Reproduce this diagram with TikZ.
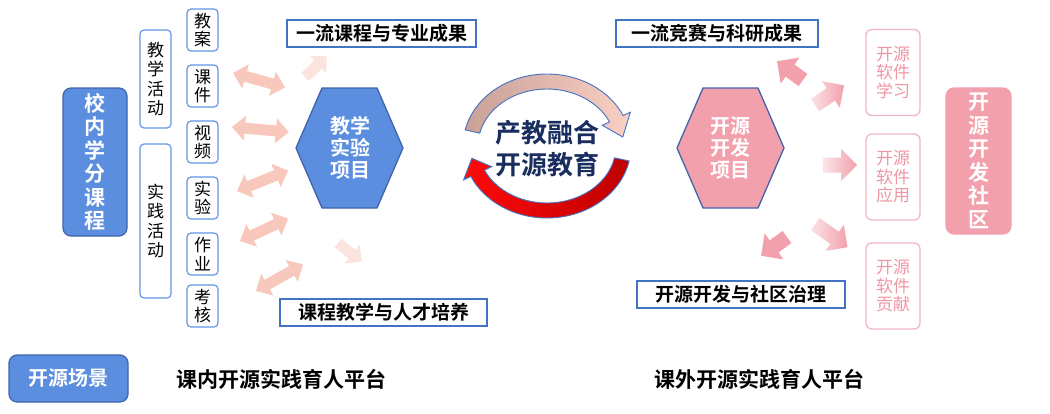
\documentclass[tikz,border=0pt]{standalone}
\usepackage{fontspec}
\setmainfont{Noto Sans CJK SC}[BoldFont={Noto Sans CJK SC Bold}]
\definecolor{cblue}{RGB}{91,142,222}
\definecolor{cbluedk}{RGB}{65,100,170}
\definecolor{cline}{RGB}{68,114,196}
\definecolor{citem}{RGB}{100,150,230}
\definecolor{cpink}{RGB}{242,160,172}
\definecolor{cpinklt}{RGB}{244,182,194}
\definecolor{cpinktx}{RGB}{240,150,165}
\definecolor{cpinkpale}{RGB}{252,228,232}
\definecolor{csalmon}{RGB}{248,200,188}
\definecolor{csalmonlt}{RGB}{252,228,222}
\definecolor{cnavy}{RGB}{25,45,95}
\definecolor{ctopl}{RGB}{200,160,150}
\definecolor{ctopr}{RGB}{250,208,196}
\definecolor{cbotl}{RGB}{255,10,10}
\definecolor{cbotr}{RGB}{190,0,0}
\newcommand\DArr[4]{\begin{scope}[shift={(#1,#2)},rotate=#3]\fill[csalmon] (0,0) -- (13,-12.5) -- (13,-5.5) -- (#4-13,-5.5) -- (#4-13,-12.5) -- (#4,0) -- (#4-13,12.5) -- (#4-13,5.5) -- (13,5.5) -- (13,12.5) -- cycle;\end{scope}}
\newcommand\SArr[8]{\begin{scope}[shift={(#1,#2)},rotate=#3]\path[#5] (0,-#6) -- (#4-#8,-#6) -- (#4-#8,-#7) -- (#4,0) -- (#4-#8,#7) -- (#4-#8,#6) -- (0,#6) -- cycle;\end{scope}}
\tikzset{
  bluebox/.style={fill=cblue, draw=cbluedk, line width=1.2pt, rounded corners=8pt, text=white, align=center, inner sep=0pt, font=\bfseries\fontsize{21}{23.5}\selectfont},
  itembox/.style={draw=citem, line width=1.2pt, rounded corners=4pt, fill=white, minimum width=31, align=center, inner sep=0pt, font=\fontsize{17}{18.5}\selectfont},
  tagbox/.style={draw=cline, line width=1.2pt, fill=white, minimum height=27, inner sep=0pt, font=\bfseries\fontsize{19}{20}\selectfont},
  softbox/.style={draw=cpinklt, line width=1.3pt, rounded corners=6pt, fill=white, text=cpinktx, minimum width=54, minimum height=86, align=center, inner sep=0pt, font=\fontsize{17}{18.5}\selectfont},
  hextext/.style={text=white, align=center, inner sep=0pt, font=\bfseries\fontsize{20}{22}\selectfont},
  hexshape/.style={draw=cbluedk, line width=1.3pt},
  circarrow/.style={draw=cline, line width=0.9pt},
  plain/.style={inner sep=0pt, font=\bfseries\fontsize{21}{23}\selectfont}
}
\begin{document}
\begin{tikzpicture}[x=1pt,y=-1pt]
\useasboundingbox (0,0) rectangle (1050,413);
\fill[white] (0,0) rectangle (1050,413);

% left double arrows
\DArr{233}{73}{-15.4}{54}
\DArr{232}{127}{-5.1}{57}
\DArr{237}{191}{21.8}{55}
\DArr{240}{241}{25}{53}
\DArr{256}{291}{29.5}{54}
% left light single arrows
\SArr{305}{77}{43.5}{30}{fill=csalmonlt}{5.5}{12}{12}
\SArr{338}{243}{-38}{30}{fill=csalmonlt}{5.5}{12}{12}

% right arrows
\SArr{803}{80}{144}{32}{fill=cpink}{7.5}{16}{16}
\SArr{815}{105}{34}{35}{left color=cpinkpale, right color=cpink}{7.5}{16}{16}
\SArr{823}{165}{0}{34}{left color=cpinkpale, right color=cpink}{7.5}{16}{16}
\SArr{815}{224}{-35.5}{40}{left color=cpinkpale, right color=cpink}{7.5}{16}{16}
\SArr{787}{237}{216}{32}{fill=cpink}{7.5}{16}{16}

% hexagons
\path[hexshape, fill=cblue] (296,148) -- (322,88) -- (377,88) -- (403,148) -- (377,208) -- (322,208) -- cycle;
\path[hexshape, fill=cpink] (677,148) -- (703,88) -- (758,88) -- (784,148) -- (758,208) -- (703,208) -- cycle;
\node[hextext] (hexL) at (350,148) {教学\\实验\\项目};
\node[hextext] (hexR) at (730.5,148) {开源\\开发\\项目};

% circular arrows
\path[circarrow, left color=ctopl, right color=ctopr]
  plot[domain=193:335, samples=40, smooth] ({547+84*cos(\x)},{146+72*sin(\x)})
  -- ({547+92*cos(335)},{146+80*sin(335)})
  -- ({547+76.5*cos(352)},{146+64.5*sin(352)})
  -- ({547+61*cos(335)},{146+49*sin(335)})
  -- plot[domain=335:193, samples=40, smooth] ({547+69*cos(\x)},{146+57*sin(\x)})
  -- cycle;
\path[circarrow, left color=cbotl, right color=cbotr]
  plot[domain=12:155, samples=40, smooth] ({547+84*cos(\x)},{146+72*sin(\x)})
  -- ({547+92*cos(155)},{146+80*sin(155)})
  -- ({547+76.5*cos(169)},{146+64.5*sin(169)})
  -- ({547+61*cos(155)},{146+49*sin(155)})
  -- plot[domain=155:12, samples=40, smooth] ({547+69*cos(\x)},{146+57*sin(\x)})
  -- cycle;
\node[text=cnavy, align=center, inner sep=0pt, font=\bfseries\fontsize{26}{32}\selectfont] (core) at (547,149) {产教融合\\开源教育};

% left column
\node[bluebox, minimum width=64, minimum height=148] (xnkc) at (95,162) {校\\内\\学\\分\\课\\程};
\node[itembox, minimum height=98, font=\fontsize{17}{19.5}\selectfont] (jxhd) at (155.5,79) {教\\学\\活\\动};
\node[itembox, minimum height=154, font=\fontsize{17}{19.5}\selectfont] (sjhd) at (155.5,221) {实\\践\\活\\动};
\node[itembox, minimum height=42] (ja) at (202.5,30) {教\\案};
\node[itembox, minimum height=42] (kj) at (202.5,86) {课\\件};
\node[itembox, minimum height=42] (sp) at (202.5,142) {视\\频};
\node[itembox, minimum height=42] (sy) at (202.5,198) {实\\验};
\node[itembox, minimum height=42] (zy) at (202.5,254) {作\\业};
\node[itembox, minimum height=42] (kh) at (202.5,306) {考\\核};

% tag boxes
\node[tagbox, minimum width=189] (t1) at (381.5,33.5) {一流课程与专业成果};
\node[tagbox, minimum width=207] (t2) at (383.5,312.5) {课程教学与人才培养};
\node[tagbox, minimum width=202] (t3) at (717,33.5) {一流竞赛与科研成果};
\node[tagbox, minimum width=208] (t4) at (741,294.5) {开源开发与社区治理};

% right column
\node[softbox] (rx) at (893,72.5) {开源\\软件\\学习};
\node[softbox] (yy) at (893,177) {开源\\软件\\应用};
\node[softbox] (gx) at (893,286) {开源\\软件\\贡献};
\node[bluebox, fill=cpink, draw=cpink, minimum width=65, minimum height=146] (sq) at (978.5,161) {开\\源\\开\\发\\社\\区};

% bottom row
\node[bluebox, minimum width=119, minimum height=47, font=\bfseries\fontsize{20}{22}\selectfont] (cj) at (68.5,378.5) {开源场景};
\node[plain] (pin) at (281,379) {课内开源实践育人平台};
\node[plain] (pout) at (759,379) {课外开源实践育人平台};
\end{tikzpicture}
\end{document}
